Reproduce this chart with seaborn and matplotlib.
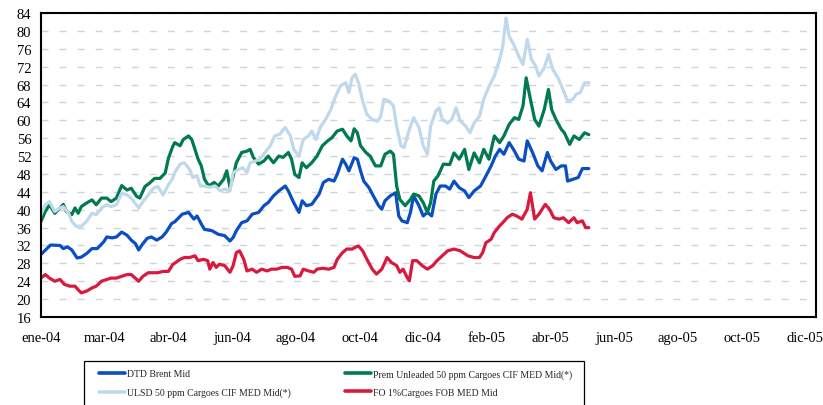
import numpy as np
import pandas as pd
import matplotlib
matplotlib.use("Agg")
import matplotlib.pyplot as plt
from matplotlib.lines import Line2D
from matplotlib.patches import Rectangle
import seaborn as sns

# ---------------- data ----------------
start_date = pd.Timestamp("2004-01-01")

brent_days = [0, 9, 18, 21, 25, 29, 34, 38, 43, 48, 53, 59, 62, 67, 71, 76, 81, 85, 89, 92, 95, 100, 104, 109, 114, 118, 123,
              126, 133, 139, 144, 147, 151, 154, 161, 167, 173, 178, 181, 184, 189, 194, 199, 205, 210, 214, 219, 224, 230,
              233, 238, 243, 246, 250, 255, 262, 266, 271, 276, 279, 284, 287, 290, 295, 298, 301, 304, 309, 313, 318,
              321, 324, 329, 334, 337, 340, 345, 348, 351, 356, 360, 364, 368, 372, 376, 381, 385, 389, 394, 399, 403,
              408, 414, 419, 424, 428, 432, 436, 441, 446, 450, 455, 458, 463, 468, 472, 477, 480, 485, 490, 494, 496,
              501, 506, 510, 516]
brent_vals = [30.0, 32.1, 32.0, 31.3, 31.7, 31.0, 29.2, 29.4, 30.2, 31.3, 31.3, 32.8, 33.9, 33.7, 33.9, 35.0, 34.3, 33.2,
              32.4, 31.0, 32.1, 33.6, 33.9, 33.2, 33.9, 35.0, 36.9,
              37.3, 39.0, 39.4, 37.9, 38.6, 36.8, 35.6, 35.3, 34.5, 34.2, 33.0, 33.8, 35.3, 37.1, 37.5, 39.0, 39.4, 40.9,
              41.6, 43.1, 44.2, 45.3, 44.2, 41.6, 39.4, 42.0, 40.9, 41.2, 43.5, 46.1, 46.8, 46.4, 47.9, 51.3, 50.2, 48.7,
              51.6, 51.3, 48.7, 46.4, 44.9, 43.1, 40.9, 40.1, 42.0, 43.1, 43.8, 38.6, 37.5, 37.1, 39.4, 43.1, 40.9, 38.6,
              39.4, 38.6, 43.5, 45.3, 45.3, 44.6, 46.4, 44.9, 44.2, 42.7, 44.2, 45.3, 47.5, 49.8, 52.0, 53.5, 52.4, 55.0,
              53.1, 51.3, 50.9, 55.4, 52.8, 49.8, 48.7, 52.8, 50.9, 49.0, 49.8, 49.8, 46.4, 46.8, 47.2, 49.2, 49.2]

prem_days = [0, 4, 8, 13, 18, 21, 24, 29, 32, 35, 38, 43, 48, 52, 57, 62, 66, 71, 76, 81, 85, 90, 93, 98, 102, 107, 112,
             117, 120, 124, 126, 131, 134, 139, 142, 145, 148, 151, 154, 158, 163, 167, 172, 175, 178, 181, 184, 189,
             194, 197, 200, 205, 210, 214, 219, 224, 228, 233, 236, 239, 243, 246, 250, 255, 260, 265, 270, 274, 279,
             284, 288, 292, 295, 298, 301, 306, 310, 315, 320, 324, 329, 332, 335, 338, 343, 348, 351, 356, 360, 364,
             367, 370, 374, 379, 385, 389, 394, 399, 403, 408, 413, 417, 422, 427, 432, 436, 441, 446, 450, 454, 457,
             461, 465, 469, 474, 478, 481, 485, 490, 493, 498, 502, 507, 512, 516]
prem_vals = [37.4, 39.6, 41.1, 39.2, 40.4, 41.2, 39.6, 38.9, 40.4, 39.2, 40.7, 41.5, 42.2, 41.1, 42.6, 42.6, 41.8, 42.6,
             45.4, 44.4, 44.8, 43.0, 42.6, 45.2, 45.9, 47.0, 47.0, 48.2, 51.5, 54.1, 55.0, 54.3, 55.7, 56.5, 55.7, 53.5,
             51.3, 49.8, 46.8, 45.3, 46.1, 45.3, 46.8, 48.7, 45.0, 47.5, 50.5, 52.8, 53.1, 53.5, 51.7, 50.2, 50.9, 52.0,
             50.5, 52.0, 51.7, 52.8, 51.3, 47.9, 47.2, 50.5, 49.4, 50.5, 52.0, 54.3, 55.4, 56.1, 57.6, 58.0, 56.5, 55.4,
             58.1, 57.2, 54.3, 52.8, 52.0, 49.8, 49.8, 52.4, 53.1, 52.4, 45.3, 42.3, 40.9, 42.3, 43.5, 43.1, 41.6, 39.4,
             41.6, 46.4, 47.6, 50.2, 50.1, 52.7, 51.3, 53.5, 49.0, 52.7, 50.5, 53.5, 51.3, 56.5, 55.0, 56.5, 59.1, 60.6,
             60.2, 63.2, 69.5, 64.7, 60.2, 58.7, 62.4, 66.9, 62.4, 60.2, 58.0, 57.2, 54.6, 56.5, 55.7, 57.2, 56.8]

ulsd_days = [0, 4, 8, 13, 18, 21, 26, 29, 33, 38, 43, 48, 52, 57, 62, 66, 71, 76, 81, 85, 92, 96, 101, 106, 110, 115,
             120, 124, 126, 131, 135, 140, 143, 147, 150, 154, 159, 164, 169, 173, 178, 181, 186, 190, 194, 197, 202,
             206, 211, 216, 220, 225, 230, 235, 238, 243, 247, 252, 255, 259, 263, 268, 273, 277, 282, 287, 290, 293,
             296, 299, 303, 307, 312, 317, 320, 323, 328, 332, 335, 339, 342, 347, 351, 356, 360, 364, 367, 372, 375,
             378, 383, 387, 391, 395, 400, 404, 408, 413, 417, 422, 427, 432, 435, 438, 441, 446, 450, 454, 458, 462,
             466, 469, 474, 478, 482, 487, 491, 496, 501, 504, 508, 512, 516]
ulsd_vals = [38.9, 41.1, 41.8, 39.6, 40.4, 40.7, 39.2, 37.4, 36.3, 36.3, 37.4, 39.2, 38.9, 40.4, 41.1, 40.7, 41.1, 43.7,
             43.3, 42.6, 40.4, 41.8, 43.3, 44.8, 45.2, 43.3, 45.6, 47.0, 48.3, 50.2, 50.5, 49.0, 47.2, 47.6, 45.3, 45.3,
             45.0, 45.3, 44.2, 44.6, 44.2, 48.3, 49.0, 49.4, 48.3, 50.5, 50.9, 51.3, 52.8, 54.3, 56.5, 56.9, 58.4, 56.5,
             53.5, 52.0, 55.7, 56.5, 57.6, 55.7, 58.4, 60.2, 62.4, 65.1, 67.7, 68.4, 66.2, 69.5, 70.3, 68.4, 64.3, 61.3,
             60.2, 59.8, 60.9, 64.7, 64.3, 63.2, 58.7, 54.3, 53.9, 58.0, 60.6, 58.4, 54.3, 52.4, 58.7, 62.1, 62.8, 60.2,
             59.4, 60.2, 62.8, 59.8, 58.7, 57.2, 59.4, 60.9, 64.7, 67.6, 69.9, 73.6, 76.6, 82.9, 78.8, 76.6, 74.3, 72.5,
             78.1, 73.6, 72.1, 69.9, 71.7, 74.7, 71.4, 69.5, 67.3, 64.3, 64.7, 65.8, 66.2, 68.4, 68.4]

fo_days = [0, 4, 8, 13, 18, 22, 27, 32, 35, 38, 43, 48, 52, 57, 62, 66, 71, 76, 81, 85, 92, 96, 101, 106, 110, 115, 120,
           124, 131, 135, 140, 145, 148, 153, 157, 159, 162, 165, 168, 173, 178, 181, 184, 187, 191, 194, 199, 203, 208,
           213, 217, 222, 227, 232, 236, 239, 244, 247, 252, 257, 260, 265, 271, 276, 279, 284, 288, 293, 296, 299, 303,
           307, 312, 316, 321, 326, 330, 335, 338, 341, 345, 347, 350, 354, 359, 364, 369, 373, 378, 383, 389, 395,
           402, 408, 413, 416, 419, 424, 427, 432, 435, 439, 444, 448, 453, 458, 461, 465, 469, 475, 479, 483, 488,
           492, 497, 502, 505, 510, 513, 516]
fo_vals = [24.7, 25.5, 24.7, 24.0, 24.4, 23.3, 22.9, 22.9, 22.1, 21.4, 21.8, 22.5, 22.9, 24.0, 24.4, 24.7, 24.7, 25.1,
           25.5, 25.5, 24.0, 25.1, 25.9, 25.9, 25.9, 26.2, 26.2, 27.7, 28.9, 29.3, 29.3, 29.7, 28.6, 28.9, 28.6, 26.7,
           28.2, 27.1, 27.8, 27.5, 26.0, 27.5, 30.4, 30.8, 28.9, 26.3, 26.7, 26.0, 26.7, 26.3, 26.7, 26.7, 27.1, 27.1,
           26.7, 25.1, 25.2, 26.7, 26.3, 26.0, 26.7, 26.9, 26.7, 27.1, 28.9, 30.4, 31.2, 31.2, 31.6, 31.9, 30.8, 28.9,
           26.7, 25.6, 26.7, 29.3, 28.2, 27.5, 26.0, 26.7, 24.8, 24.1, 28.6, 28.6, 27.5, 26.7, 27.5, 28.6, 29.7, 30.8,
           31.2, 30.8, 29.7, 29.3, 29.3, 30.4, 32.6, 33.4, 34.9, 36.4, 37.1, 38.2, 39.0, 38.6, 37.9, 40.1, 43.8, 37.9,
           39.0, 41.2, 40.1, 38.2, 37.9, 38.2, 37.1, 38.2, 37.1, 37.5, 36.0, 36.0]

series_names = ["DTD Brent Mid",
                "Prem Unleaded 50 ppm Cargoes CIF MED Mid(*)",
                "ULSD 50 ppm Cargoes CIF MED Mid(*)",
                "FO 1%Cargoes FOB MED Mid"]
series_colors = ["#0A4EC2", "#007A4E", "#BFD8EC", "#D71A3E"]

xtick_days = [0, 60, 120, 180, 240, 300, 360, 420, 480, 540, 600, 660, 720]
xtick_labels = ["ene-04", "mar-04", "abr-04", "jun-04", "ago-04", "oct-04", "dic-04",
                "feb-05", "abr-05", "jun-05", "ago-05", "oct-05", "dic-05"]
yticks = list(range(16, 85, 4))

# ---------------- build table ----------------
frames = []
for name, d, v in zip(series_names,
                      [brent_days, prem_days, ulsd_days, fo_days],
                      [brent_vals, prem_vals, ulsd_vals, fo_vals]):
    frames.append(pd.DataFrame({"date": start_date + pd.to_timedelta(d, unit="D"),
                                "value": v, "series": name}))
df = pd.concat(frames, ignore_index=True)

# ---------------- style ----------------
sns.set_style("white")
plt.rcParams["font.family"] = ["Liberation Serif", "DejaVu Serif"]

fig = plt.figure(figsize=(8.23, 4.06), dpi=100)
W, H = 823, 406
ax = fig.add_axes([41 / W, 1 - 318 / H, (816 - 41) / W, (318 - 14) / H])

palette = dict(zip(series_names, series_colors))
sns.lineplot(data=df, x="date", y="value", hue="series", hue_order=series_names,
             palette=palette, linewidth=2.3, ax=ax, legend=False, estimator=None, sort=False)

ax.set_xlim(start_date, start_date + pd.Timedelta(days=730))
ax.set_ylim(16, 84)
ax.set_yticks(yticks)
ax.set_yticklabels([str(t) for t in yticks])
ax.set_xticks([start_date + pd.Timedelta(days=d) for d in xtick_days])
ax.set_xticklabels(xtick_labels)
ax.set_xlabel("")
ax.set_ylabel("")

ax.yaxis.grid(True, linestyle=(0, (5, 8)), color="#CDD3D8", linewidth=1.0)
ax.xaxis.grid(False)
ax.set_axisbelow(True)

for s in ax.spines.values():
    s.set_color("black")
    s.set_linewidth(1.5)
    s.set_visible(True)

ax.tick_params(axis="y", direction="out", length=4, width=1, pad=3, labelsize=10.5, colors="black")
ax.tick_params(axis="x", direction="out", length=3, width=1, pad=7, labelsize=10.5, colors="black")

# ---------------- legend ----------------
fig.patches.append(Rectangle((84 / W, -4 / H), 500 / W, (406 - 362 + 4) / H,
                             transform=fig.transFigure, facecolor="white",
                             edgecolor="black", linewidth=0.9, zorder=0))

handles = [Line2D([0], [0], color=c, linewidth=2.6) for c in series_colors]
order = [0, 2, 1, 3]
leg = fig.legend([handles[i] for i in order], [series_names[i] for i in order],
                 loc="upper left", bbox_to_anchor=(99 / W, 0.0, (572 - 99) / W, 1 - 370 / H),
                 mode="expand", ncol=2, fontsize=7.0, frameon=False,
                 handlelength=2.7, handletextpad=0.15,
                 labelspacing=0.95, borderpad=0.0, borderaxespad=0.0, columnspacing=2.0)

fig.savefig("out.png", dpi=100)
